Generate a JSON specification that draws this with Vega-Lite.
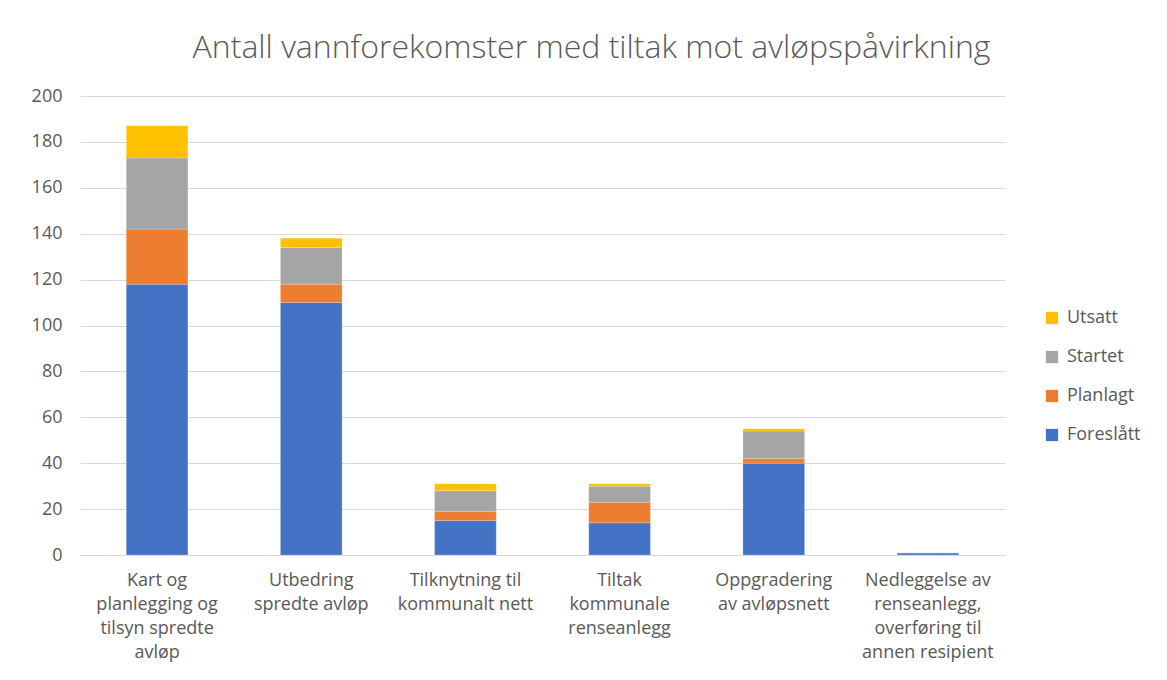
{
  "$schema": "https://vega.github.io/schema/vega-lite/v6.json",
  "autosize": "none",
  "width": 925,
  "height": 459,
  "padding": {"left": 80, "top": 96, "right": 162, "bottom": 125},
  "background": "white",
  "title": {
    "text": "Antall vannforekomster med tiltak mot avløpspåvirkning",
    "font": "Open Sans",
    "fontSize": 32,
    "fontWeight": 300,
    "color": "#595959",
    "anchor": "middle",
    "dx": 49,
    "offset": 22,
    "frame": "group"
  },
  "data": {
    "values": [
      {"tiltak": "Kart og planlegging og tilsyn spredte avløp", "status": "Foreslått", "antall": 118},
      {"tiltak": "Kart og planlegging og tilsyn spredte avløp", "status": "Planlagt", "antall": 24},
      {"tiltak": "Kart og planlegging og tilsyn spredte avløp", "status": "Startet", "antall": 31},
      {"tiltak": "Kart og planlegging og tilsyn spredte avløp", "status": "Utsatt", "antall": 14},
      {"tiltak": "Utbedring spredte avløp", "status": "Foreslått", "antall": 110},
      {"tiltak": "Utbedring spredte avløp", "status": "Planlagt", "antall": 8},
      {"tiltak": "Utbedring spredte avløp", "status": "Startet", "antall": 16},
      {"tiltak": "Utbedring spredte avløp", "status": "Utsatt", "antall": 4},
      {"tiltak": "Tilknytning til kommunalt nett", "status": "Foreslått", "antall": 15},
      {"tiltak": "Tilknytning til kommunalt nett", "status": "Planlagt", "antall": 4},
      {"tiltak": "Tilknytning til kommunalt nett", "status": "Startet", "antall": 9},
      {"tiltak": "Tilknytning til kommunalt nett", "status": "Utsatt", "antall": 3},
      {"tiltak": "Tiltak kommunale renseanlegg", "status": "Foreslått", "antall": 14},
      {"tiltak": "Tiltak kommunale renseanlegg", "status": "Planlagt", "antall": 9},
      {"tiltak": "Tiltak kommunale renseanlegg", "status": "Startet", "antall": 7},
      {"tiltak": "Tiltak kommunale renseanlegg", "status": "Utsatt", "antall": 1},
      {"tiltak": "Oppgradering av avløpsnett", "status": "Foreslått", "antall": 40},
      {"tiltak": "Oppgradering av avløpsnett", "status": "Planlagt", "antall": 2},
      {"tiltak": "Oppgradering av avløpsnett", "status": "Startet", "antall": 12},
      {"tiltak": "Oppgradering av avløpsnett", "status": "Utsatt", "antall": 1},
      {"tiltak": "Nedleggelse av renseanlegg, overføring til annen resipient", "status": "Foreslått", "antall": 1},
      {"tiltak": "Nedleggelse av renseanlegg, overføring til annen resipient", "status": "Planlagt", "antall": 0},
      {"tiltak": "Nedleggelse av renseanlegg, overføring til annen resipient", "status": "Startet", "antall": 0},
      {"tiltak": "Nedleggelse av renseanlegg, overføring til annen resipient", "status": "Utsatt", "antall": 0}
    ]
  },
  "mark": {"type": "bar", "stroke": "white", "strokeWidth": 0.5, "strokeOpacity": 0.4},
  "encoding": {
    "x": {
      "field": "tiltak",
      "type": "nominal",
      "sort": null,
      "scale": {"paddingInner": 0.6, "paddingOuter": 0.3},
      "axis": {
        "title": null,
        "labelAngle": 0,
        "ticks": false,
        "domain": true,
        "domainColor": "#d9d9d9",
        "domainWidth": 1,
        "labelFont": "Open Sans",
        "labelFontSize": 18,
        "labelColor": "#595959",
        "labelLineHeight": 24,
        "labelPadding": 16,
        "labelLimit": 0,
        "labelExpr": "datum.value == 'Kart og planlegging og tilsyn spredte avløp' ? ['Kart og', 'planlegging og', 'tilsyn spredte', 'avløp'] : datum.value == 'Utbedring spredte avløp' ? ['Utbedring', 'spredte avløp'] : datum.value == 'Tilknytning til kommunalt nett' ? ['Tilknytning til', 'kommunalt nett'] : datum.value == 'Tiltak kommunale renseanlegg' ? ['Tiltak', 'kommunale', 'renseanlegg'] : datum.value == 'Oppgradering av avløpsnett' ? ['Oppgradering', 'av avløpsnett'] : ['Nedleggelse av', 'renseanlegg,', 'overføring til', 'annen resipient']"
      }
    },
    "y": {
      "field": "antall",
      "type": "quantitative",
      "aggregate": "sum",
      "stack": "zero",
      "scale": {"domain": [0, 200], "nice": false},
      "axis": {
        "title": null,
        "values": [0, 20, 40, 60, 80, 100, 120, 140, 160, 180, 200],
        "domain": false,
        "ticks": false,
        "grid": true,
        "gridColor": "#d9d9d9",
        "gridWidth": 1,
        "labelFont": "Open Sans",
        "labelFontSize": 18,
        "labelColor": "#595959",
        "labelPadding": 18
      }
    },
    "color": {
      "field": "status",
      "type": "nominal",
      "scale": {
        "domain": ["Utsatt", "Startet", "Planlagt", "Foreslått"],
        "range": ["#FFC000", "#A5A5A5", "#ED7D31", "#4472C4"]
      },
      "legend": {
        "title": null,
        "orient": "none",
        "legendX": 963,
        "legendY": 213,
        "symbolType": "square",
        "symbolSize": 150,
        "symbolStrokeWidth": 0,
        "symbolOpacity": 1,
        "labelFont": "Open Sans",
        "labelFontSize": 18,
        "labelColor": "#595959",
        "labelOffset": 6,
        "rowPadding": 21
      }
    },
    "order": {"field": "status", "sort": "ascending"}
  },
  "config": {
    "view": {"stroke": null}
  }
}
